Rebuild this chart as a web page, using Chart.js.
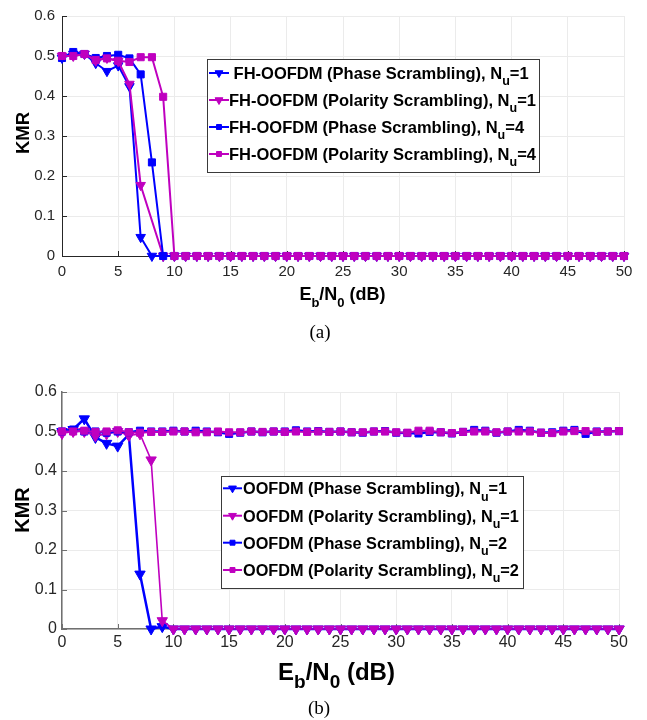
<!DOCTYPE html>
<html>
<head>
<meta charset="utf-8">
<script src="https://cdn.jsdelivr.net/npm/chart.js@4.4.1/dist/chart.umd.min.js"></script>
<style>
html,body{margin:0;padding:0;background:#fff;}
#wrap{position:relative;width:647px;height:720px;overflow:hidden;background:#fff;}
canvas{position:absolute;left:0;}
#ca{top:0;}
#cb{top:345px;}
.cap{position:absolute;width:120px;text-align:center;font-family:"Liberation Serif","Times New Roman",serif;font-size:19px;line-height:24px;color:#000;}
</style>
</head>
<body>
<div id="wrap">
<canvas id="ca" width="647" height="345"></canvas>
<canvas id="cb" width="647" height="375"></canvas>
<div class="cap" style="left:260px;top:320px;">(a)</div>
<div class="cap" style="left:259px;top:696px;">(b)</div>
</div>
<script>
// ---------- DATA ----------
const ebn0 = [0,1,2,3,4,5,6,7,8,9,10,11,12,13,14,15,16,17,18,19,20,21,22,23,24,25,26,27,28,29,30,31,32,33,34,35,36,37,38,39,40,41,42,43,44,45,46,47,48,49,50];
const xTickLabels = ['0','5','10','15','20','25','30','35','40','45','50'];
const yTickLabels = ['0','0.1','0.2','0.3','0.4','0.5','0.6'];

// Panel (a)
const aPhaseNu1 = [0.495,0.505,0.505,0.482,0.462,0.476,0.424,0.047,0,0,0,0,0,0,0,0,0,0,0,0,0,0,0,0,0,0,0,0,0,0,0,0,0,0,0,0,0,0,0,0,0,0,0,0,0,0,0,0,0,0,0];
const aPolarNu1 = [0.5,0.5,0.505,0.488,0.495,0.487,0.43,0.177,null,0,0,0,0,0,0,0,0,0,0,0,0,0,0,0,0,0,0,0,0,0,0,0,0,0,0,0,0,0,0,0,0,0,0,0,0,0,0,0,0,0,0];
const aPhaseNu4 = [0.495,0.51,0.505,0.495,0.5,0.503,0.494,0.454,0.234,0,0,0,0,0,0,0,0,0,0,0,0,0,0,0,0,0,0,0,0,0,0,0,0,0,0,0,0,0,0,0,0,0,0,0,0,0,0,0,0,0,0];
const aPolarNu4 = [0.5,0.5,0.505,0.49,0.494,0.488,0.485,0.497,0.497,0.398,0,0,0,0,0,0,0,0,0,0,0,0,0,0,0,0,0,0,0,0,0,0,0,0,0,0,0,0,0,0,0,0,0,0,0,0,0,0,0,0,0];
const legendA = [' FH-OOFDM (Phase Scrambling), N_u=1','FH-OOFDM (Polarity Scrambling), N_u=1','FH-OOFDM (Phase Scrambling), N_u=4','FH-OOFDM (Polarity Scrambling), N_u=4'];

// Panel (b)
const bPhaseNu1 = [0.5,0.505,0.532,0.485,0.47,0.463,0.492,0.139,0,0.006,0,0,0,0,0,0,0,0,0,0,0,0,0,0,0,0,0,0,0,0,0,0,0,0,0,0,0,0,0,0,0,0,0,0,0,0,0,0,0,0,0];
const bPolarNu1 = [0.495,0.5,0.5,0.489,0.494,0.5,0.49,0.494,0.428,0.021,0,0,0,0,0,0,0,0,0,0,0,0,0,0,0,0,0,0,0,0,0,0,0,0,0,0,0,0,0,0,0,0,0,0,0,0,0,0,0,0,0];
const bPhaseNu2 = [0.5,0.505,0.5,0.5,0.497,0.5,0.498,0.502,0.5,0.5,0.502,0.5,0.502,0.5,0.498,0.494,0.497,0.5,0.498,0.5,0.5,0.503,0.5,0.501,0.499,0.5,0.498,0.497,0.5,0.501,0.497,0.496,0.495,0.499,0.498,0.495,0.499,0.504,0.502,0.497,0.5,0.504,0.502,0.497,0.498,0.502,0.504,0.494,0.5,0.5,0.501];
const bPolarNu2 = [0.5,0.5,0.502,0.499,0.5,0.503,0.498,0.497,0.499,0.499,0.5,0.5,0.498,0.498,0.5,0.498,0.498,0.5,0.499,0.5,0.499,0.5,0.499,0.5,0.499,0.5,0.498,0.498,0.5,0.5,0.498,0.497,0.502,0.502,0.498,0.496,0.499,0.5,0.5,0.498,0.5,0.5,0.5,0.497,0.496,0.5,0.501,0.501,0.499,0.5,0.501];
const legendB = ['OOFDM (Phase Scrambling), N_u=1','OOFDM (Polarity Scrambling), N_u=1','OOFDM (Phase Scrambling), N_u=2','OOFDM (Polarity Scrambling), N_u=2'];

const xTitle = 'E_b/N_0 (dB)';
const yTitle = 'KMR';

// ---------- STYLE ----------
const BLUE = '#0000ff', MAG = '#bf00bf';
const FAM = '"Liberation Sans", Arial, Helvetica, sans-serif';

function richParts(s){
  const out=[]; let buf=''; let i=0;
  while(i<s.length){
    if(s[i]==='_'){ if(buf){out.push({t:buf,sub:false});buf='';} out.push({t:s[i+1],sub:true}); i+=2; }
    else { buf+=s[i]; i++; }
  }
  if(buf) out.push({t:buf,sub:false});
  return out;
}
function drawRich(ctx, s, x, y, size, subSize, subDrop, align){
  const parts = richParts(s);
  let w = 0;
  parts.forEach(p=>{ ctx.font = 'bold '+(p.sub?subSize:size)+'px '+FAM; p.w = ctx.measureText(p.t).width; w += p.w; });
  let cx = align==='center' ? x - w/2 : x;
  ctx.textAlign='left'; ctx.textBaseline='alphabetic'; ctx.fillStyle='#000';
  parts.forEach(p=>{ ctx.font = 'bold '+(p.sub?subSize:size)+'px '+FAM; ctx.fillText(p.t, cx, p.sub ? y+subDrop : y); cx += p.w; });
}
function drawMarker(ctx, m, x, y, r, color){
  ctx.save(); ctx.fillStyle=color; ctx.strokeStyle=color; ctx.lineWidth=1;
  ctx.beginPath();
  if(m==='v'){
    ctx.moveTo(x - r*0.866, y - r*0.5); ctx.lineTo(x + r*0.866, y - r*0.5); ctx.lineTo(x, y + r); ctx.closePath();
  } else {
    const h = r*0.7071; ctx.rect(x-h, y-h, 2*h, 2*h);
  }
  ctx.fill(); ctx.stroke(); ctx.restore();
}

function makeChart(id, cfg){
  const datasets = cfg.series.map((s,i)=>({
    label: s.label,
    data: ebn0.map((x,k)=>({x:x, y:s.values[k]})),
    borderColor: s.color, backgroundColor: s.color, borderWidth: s.lw,
    pointStyle: s.marker==='v' ? 'triangle' : 'rect',
    pointRotation: s.marker==='v' ? 180 : 0,
    pointRadius: s.r, pointHoverRadius: s.r,
    pointBackgroundColor: s.color, pointBorderColor: s.color, pointBorderWidth: 1,
    tension: 0, spanGaps: true, clip: false, order: cfg.series.length-1-i
  }));
  const deco = {
    id: 'deco'+id,
    beforeDatasetsDraw(chart){
      const ctx = chart.ctx, a = chart.chartArea, xs = chart.scales.x, ys = chart.scales.y;
      ctx.save(); ctx.strokeStyle = cfg.axisColor; ctx.lineWidth = 1;
      xs.ticks.forEach(t=>{ const px = Math.round(xs.getPixelForValue(t.value))+0.5; ctx.beginPath(); ctx.moveTo(px, a.bottom); ctx.lineTo(px, a.bottom-cfg.tickLen); ctx.stroke(); });
      ys.ticks.forEach(t=>{ const py = Math.round(ys.getPixelForValue(t.value))+0.5; ctx.beginPath(); ctx.moveTo(a.left, py); ctx.lineTo(a.left+cfg.tickLen, py); ctx.stroke(); });
      ctx.restore();
    },
    afterDraw(chart){
      const ctx = chart.ctx;
      ctx.save();
      drawRich(ctx, xTitle, cfg.xt.x, cfg.xt.y, cfg.xt.size, cfg.xt.sub, cfg.xt.drop, 'center');
      ctx.save(); ctx.translate(cfg.yt.x, cfg.yt.y); ctx.rotate(-Math.PI/2);
      ctx.font = 'bold '+cfg.yt.size+'px '+FAM; ctx.fillStyle='#000'; ctx.textAlign='center'; ctx.textBaseline='alphabetic';
      ctx.fillText(yTitle, 0, cfg.yt.size*0.36); ctx.restore();
      const L = cfg.leg;
      ctx.fillStyle='#fff'; ctx.fillRect(L.l, L.t, L.r-L.l, L.b-L.t);
      ctx.strokeStyle='#3a3a3a'; ctx.lineWidth=1; ctx.strokeRect(L.l+0.5, L.t+0.5, L.r-L.l, L.b-L.t);
      cfg.series.forEach((s,i)=>{
        const cy = L.rows[i];
        ctx.strokeStyle = s.color; ctx.lineWidth = 2;
        ctx.beginPath(); ctx.moveTo(L.x1, cy); ctx.lineTo(L.x2, cy); ctx.stroke();
        drawMarker(ctx, s.marker, (L.x1+L.x2)/2, cy, s.marker==='v'?4.5:3.5, s.color);
        drawRich(ctx, L.labels[i], L.tx, cy + L.size*0.36, L.size, L.sub, L.drop, 'left');
      });
      ctx.restore();
    }
  };
  return new Chart(document.getElementById(id), {
    type: 'line',
    data: { datasets },
    plugins: [deco],
    options: {
      responsive: false, animation: false, devicePixelRatio: 1, events: [],
      layout: { padding: { left: 0, top: cfg.top, right: cfg.padRight, bottom: 0 } },
      plugins: { legend: { display: false }, tooltip: { enabled: false } },
      scales: {
        x: {
          type: 'linear', min: 0, max: 50,
          ticks: { stepSize: 5, padding: cfg.xPad, color: '#262626', font: { family: FAM, size: cfg.tickSize }, maxRotation: 0, autoSkip: false,
                   callback: v => xTickLabels[Math.round(v/5)] },
          grid: { color: '#ebebeb', drawTicks: false, lineWidth: 1 },
          border: { color: cfg.axisColor, width: cfg.axisWidth },
          afterFit: s => { s.height = cfg.xAxisH; }
        },
        y: {
          type: 'linear', min: 0, max: 0.6,
          ticks: { stepSize: 0.1, padding: cfg.yPad, color: '#262626', font: { family: FAM, size: cfg.tickSize },
                   callback: v => yTickLabels[Math.round(v*10)] },
          grid: { color: '#ebebeb', drawTicks: false, lineWidth: 1 },
          border: { color: cfg.axisColor, width: cfg.axisWidth },
          afterFit: s => { s.width = 62; }
        }
      }
    }
  });
}

makeChart('ca', {
  series: [
    { label: legendA[0], values: aPhaseNu1, color: BLUE, marker: 'v', lw: 2, r: 5.5 },
    { label: legendA[1], values: aPolarNu1, color: MAG, marker: 'v', lw: 2, r: 5.5 },
    { label: legendA[2], values: aPhaseNu4, color: BLUE, marker: 's', lw: 2, r: 5 },
    { label: legendA[3], values: aPolarNu4, color: MAG, marker: 's', lw: 2, r: 5 }
  ],
  top: 14, padRight: 23, xAxisH: 89, xPad: 7, yPad: 7, tickSize: 15, tickLen: 5,
  axisColor: '#262626', axisWidth: 1,
  xt: { x: 342.5, y: 300, size: 18, sub: 13, drop: 7 },
  yt: { x: 22, y: 133, size: 18.5 },
  leg: { l: 207, t: 59, r: 539, b: 172, rows: [73, 100, 127, 154], x1: 209, x2: 229, tx: 229, size: 16.5, sub: 12.5, drop: 6.5, labels: legendA }
});

makeChart('cb', {
  series: [
    { label: legendB[0], values: bPhaseNu1, color: BLUE, marker: 'v', lw: 2.5, r: 6 },
    { label: legendB[1], values: bPolarNu1, color: MAG, marker: 'v', lw: 1.6, r: 6 },
    { label: legendB[2], values: bPhaseNu2, color: BLUE, marker: 's', lw: 2.5, r: 5 },
    { label: legendB[3], values: bPolarNu2, color: MAG, marker: 's', lw: 2, r: 5 }
  ],
  top: 47, padRight: 28, xAxisH: 91, xPad: 4, yPad: 5, tickSize: 16, tickLen: 5,
  axisColor: '#707070', axisWidth: 1.5,
  xt: { x: 336.5, y: 334.5, size: 24, sub: 19, drop: 8 },
  yt: { x: 22, y: 165, size: 20 },
  leg: { l: 221, t: 131, r: 523, b: 243, rows: [143.3, 170.7, 197.7, 225], x1: 223, x2: 242, tx: 243, size: 16.3, sub: 12.5, drop: 6.5, labels: legendB }
});
</script>
</body>
</html>
